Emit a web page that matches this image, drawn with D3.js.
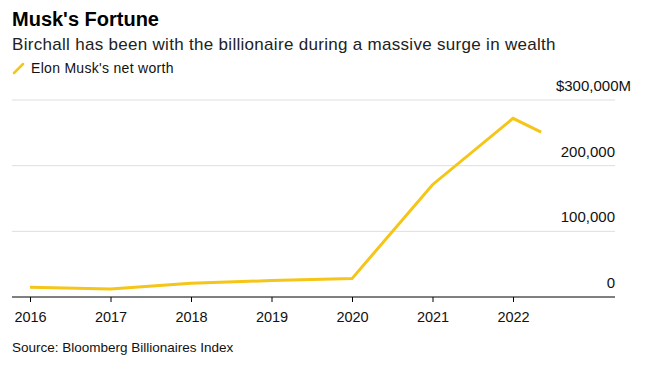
<!DOCTYPE html>
<html>
<head>
<meta charset="utf-8">
<script src="https://cdn.jsdelivr.net/npm/d3@7"></script>
<style>
  body { margin: 0; background: #fff; font-family: "Liberation Sans", Arial, sans-serif; }
  .grid line { stroke: #dedede; stroke-width: 1; }
</style>
</head>
<body>
<script>
// Data (net worth in $M)
let years = [2016, 2017, 2018, 2019, 2020, 2021, 2022, 2022.35];
let worth = [15000, 12000, 21000, 25000, 28000, 171000, 272000, 251000];
let xTicks = [2016, 2017, 2018, 2019, 2020, 2021, 2022];
let yTicks = [0, 100000, 200000, 300000];
let yLabels = ["0", "100,000", "200,000", "$300,000M"];

let width = 672, height = 387;
let plotLeft = 12, plotRight = 615, plotTop = 100, plotBottom = 297;

let svg = d3.select("body").append("svg")
  .attr("width", width)
  .attr("height", height);

// Title, subtitle, legend
svg.append("text").attr("x", 12).attr("y", 26)
  .attr("font-size", 20).attr("font-weight", "bold").attr("fill", "#000")
  .text("Musk's Fortune");
svg.append("text").attr("x", 12).attr("y", 50)
  .attr("font-size", 17).attr("letter-spacing", 0.3).attr("fill", "#222")
  .text("Birchall has been with the billionaire during a massive surge in wealth");
svg.append("line")
  .attr("x1", 14).attr("y1", 73).attr("x2", 23).attr("y2", 64)
  .attr("stroke", "#f5c518").attr("stroke-width", 2.5).attr("stroke-linecap", "round");
svg.append("text").attr("x", 31).attr("y", 73)
  .attr("font-size", 14).attr("letter-spacing", 0.3).attr("fill", "#111")
  .text("Elon Musk's net worth");

let x = d3.scaleLinear().domain([2016, 2022]).range([30, 513]);
let y = d3.scaleLinear().domain([0, 300000]).range([plotBottom, plotTop]);

// Gridlines
svg.append("g").attr("class", "grid")
  .selectAll("line")
  .data(yTicks.filter(d => d > 0))
  .enter().append("line")
    .attr("x1", plotLeft).attr("x2", plotRight)
    .attr("y1", d => y(d)).attr("y2", d => y(d));

// Y labels, right aligned above each gridline
svg.append("g").selectAll("text")
  .data(yTicks)
  .enter().append("text")
    .attr("x", (d, i) => i === 3 ? plotRight + 16 : plotRight)
    .attr("y", d => y(d) - 9)
    .attr("text-anchor", "end")
    .attr("font-size", 15).attr("fill", "#111")
    .text((d, i) => yLabels[i]);

// Line
let line = d3.line().x(d => x(d[0])).y(d => y(d[1]));
svg.append("path")
  .datum(years.map((yr, i) => [yr, worth[i]]))
  .attr("d", line)
  .attr("fill", "none")
  .attr("stroke", "#f5c518")
  .attr("stroke-width", 3);

// X axis
let xAxis = d3.axisBottom(x)
  .tickValues(xTicks)
  .tickFormat(d3.format("d"))
  .tickSize(5)
  .tickPadding(10);
let gx = svg.append("g")
  .attr("transform", "translate(0," + plotBottom + ")")
  .call(xAxis);
gx.select(".domain").remove();
gx.append("line").attr("x1", plotLeft).attr("x2", plotRight)
  .attr("stroke", "#000").attr("stroke-width", 1);
gx.selectAll("text")
  .attr("font-size", 14.5).attr("fill", "#111")
  .attr("font-family", "Liberation Sans, Arial, sans-serif");

// Source
svg.append("text").attr("x", 12).attr("y", 352)
  .attr("font-size", 13.5).attr("fill", "#111")
  .text("Source: Bloomberg Billionaires Index");
</script>
</body>
</html>
